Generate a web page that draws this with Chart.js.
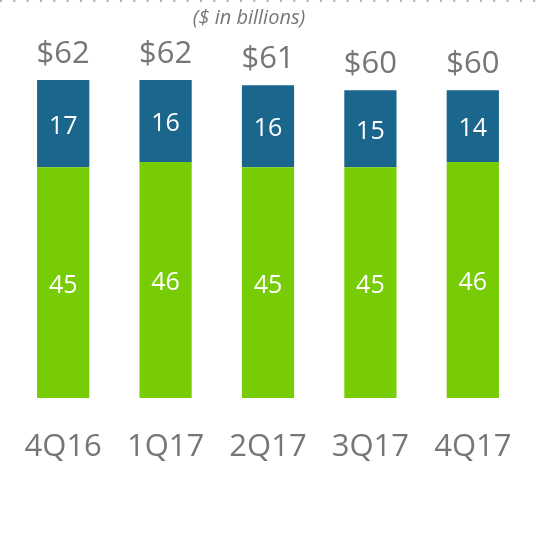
<!DOCTYPE html>
<html><head><meta charset="utf-8">
<script src="https://cdn.jsdelivr.net/npm/chart.js@4/dist/chart.umd.min.js"></script>
<style>html,body{margin:0;padding:0;background:#fff;}#wrap{width:552px;height:534px;position:relative;}</style>
</head><body><div id="wrap"><canvas id="c" width="552" height="534"></canvas></div>
<script>
const categories = ["4Q16","1Q17","2Q17","3Q17","4Q17"];
const greenValues = [45,46,45,45,46];
const blueValues = [17,16,16,15,14];
const subtitle = "($ in billions)";

const FONT = "'Open Sans', 'DejaVu Sans', sans-serif";
const GREY = "#767676";

const overlay = {
  id: 'overlay',
  afterDatasetsDraw(chart) {
    const ctx = chart.ctx;
    const x = chart.scales.x, y = chart.scales.y;
    ctx.save();
    // dotted top line
    ctx.strokeStyle = "#b0b0b0"; ctx.lineWidth = 2; ctx.setLineDash([2, 11.33]);
    ctx.beginPath(); ctx.moveTo(0,1); ctx.lineTo(536,1); ctx.stroke();
    ctx.setLineDash([]);
    // subtitle
    ctx.fillStyle = GREY; ctx.textAlign = 'center'; ctx.textBaseline = 'alphabetic';
    ctx.font = "italic 20px " + FONT;
    ctx.fillText(subtitle, 249, 24);
    // segment labels
    ctx.fillStyle = "#ffffff"; ctx.font = "25px " + FONT; ctx.textBaseline = 'middle';
    [0,1].forEach(di => {
      const meta = chart.getDatasetMeta(di);
      meta.data.forEach((bar, i) => {
        const v = chart.data.datasets[di].data[i];
        ctx.fillText(String(v), bar.x, (bar.y + bar.base)/2 + 3);
      });
    });
    // totals
    ctx.fillStyle = GREY; ctx.font = "31px " + FONT; ctx.textBaseline = 'alphabetic';
    categories.forEach((c, i) => {
      const tot = greenValues[i] + blueValues[i];
      ctx.fillText("$" + tot, x.getPixelForValue(i), y.getPixelForValue(tot) - 17);
    });
    // categories
    categories.forEach((c, i) => {
      ctx.fillText(c, x.getPixelForValue(i), 456);
    });
    ctx.restore();
  }
};

new Chart(document.getElementById('c'), {
  type: 'bar',
  data: {
    labels: categories,
    datasets: [
      { data: greenValues, backgroundColor: "#77cc05", borderWidth: 0, barPercentage: 0.51, categoryPercentage: 1 },
      { data: blueValues, backgroundColor: "#1b668c", borderWidth: 0, barPercentage: 0.51, categoryPercentage: 1 }
    ]
  },
  options: {
    responsive: false, animation: false,
    layout: { padding: { left: 12, right: 28, top: 39, bottom: 136 } },
    plugins: { legend: { display: false }, tooltip: { enabled: false } },
    scales: {
      x: { display: false, stacked: true },
      y: { display: false, stacked: true, min: 0, max: 70 }
    }
  },
  plugins: [overlay]
});
</script></body></html>
